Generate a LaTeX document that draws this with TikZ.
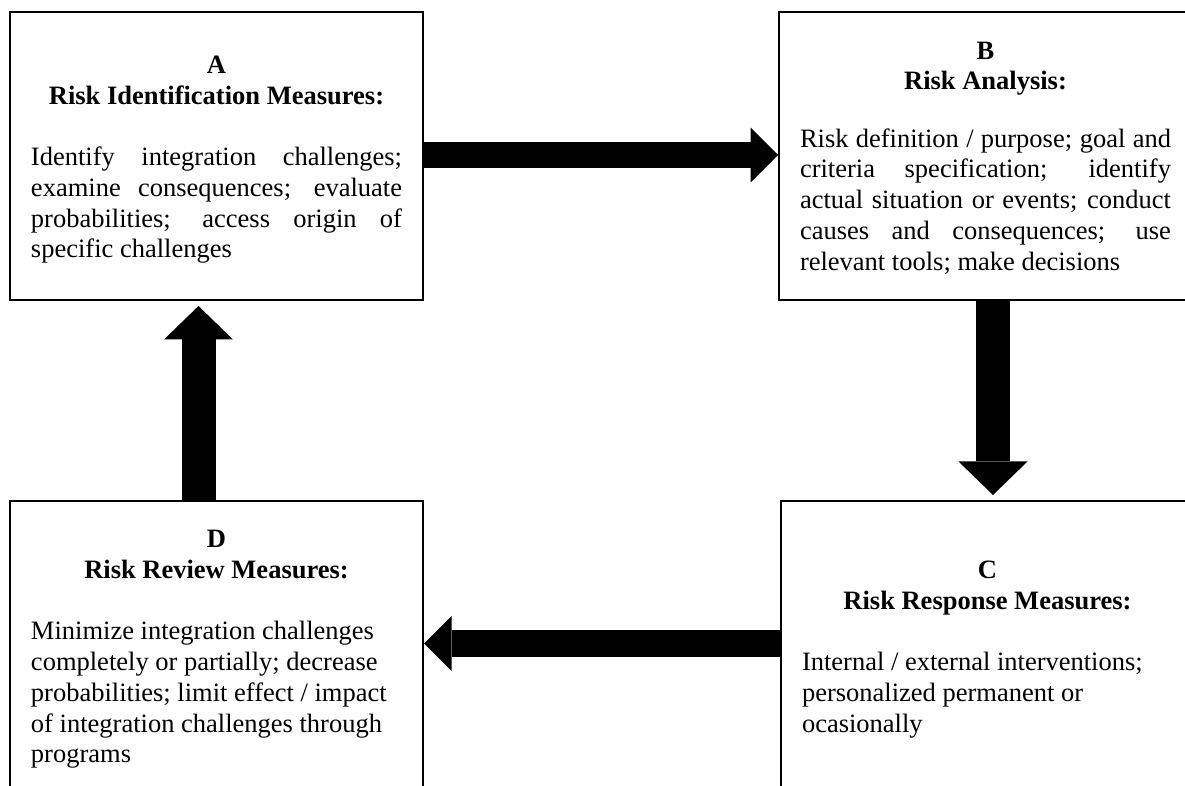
\documentclass[tikz,border=0pt]{standalone}
\usepackage{fontspec}
\setmainfont{Liberation Serif}
\usetikzlibrary{arrows.meta}
\newcommand{\toppad}[1]{\rule{0pt}{\dimexpr\fontcharht\font`A+#1\relax}}
\begin{document}
\begin{tikzpicture}[x=0.5pt,y=-0.5pt,
  box/.style={draw, line width=1pt, rectangle, text width=185.5pt,
    align=justify, inner xsep=10.5pt, inner ysep=0pt, minimum height=144pt,
    font=\fontsize{13.25pt}{15.35pt}\selectfont},
  hbig/.style={line width=13.25pt,
    -{Triangle[length=13.75pt,width=27.5pt,line width=0pt]}},
  vbig/.style={line width=17pt,
    -{Triangle[length=16.75pt,width=34.5pt,line width=0pt]}}]
\fill[white] (0,0) rectangle (1185,786);
\clip (0,0) rectangle (1185,786);

\node[box] (A) at (216.5,156) {{\centering\bfseries\toppad{4pt}A\\Risk Identification Measures:\par}\vspace{\baselineskip}
Identify integration challenges;\linebreak examine consequences; evaluate\linebreak probabilities; access origin of\linebreak specific challenges};

\node[box] (B) at (985.5,156) {{\centering\bfseries\toppad{2pt}B\\Risk Analysis:\par}\vspace{\dimexpr\baselineskip-2pt\relax}
Risk definition / purpose; goal and\linebreak criteria specification; identify\linebreak actual situation or events; conduct\linebreak causes and consequences; use\linebreak relevant tools; make decisions};

\node[box, minimum height=146pt] (C) at (987.5,647) {{\centering\bfseries\toppad{2.5pt}C\\Risk Response Measures:\par}\vspace{\baselineskip}
{\raggedright Internal / external interventions;\\ personalized permanent or\\ ocasionally\par}};

\node[box, minimum height=146pt] (D) at (216.5,647) {{\centering\bfseries\toppad{2.5pt}D\\Risk Review Measures:\par}\vspace{\baselineskip}
{\raggedright Minimize integration challenges\\ completely or partially; decrease\\ probabilities; limit effect / impact\\ of integration challenges through\\ programs\par}};

\coordinate (hy1) at (0,155);
\coordinate (hy2) at (0,643.5);
\coordinate (vx1) at (993,0);
\coordinate (vx2) at (198.5,0);

\draw[hbig] (A.east |- hy1) -- (B.west |- hy1);
\draw[vbig, shorten >=2.5pt] (B.south -| vx1) -- (C.north -| vx1);
\draw[hbig] (C.west |- hy2) -- (D.east |- hy2);
\draw[vbig, shorten >=2.5pt] (D.north -| vx2) -- (A.south -| vx2);
\end{tikzpicture}
\end{document}
